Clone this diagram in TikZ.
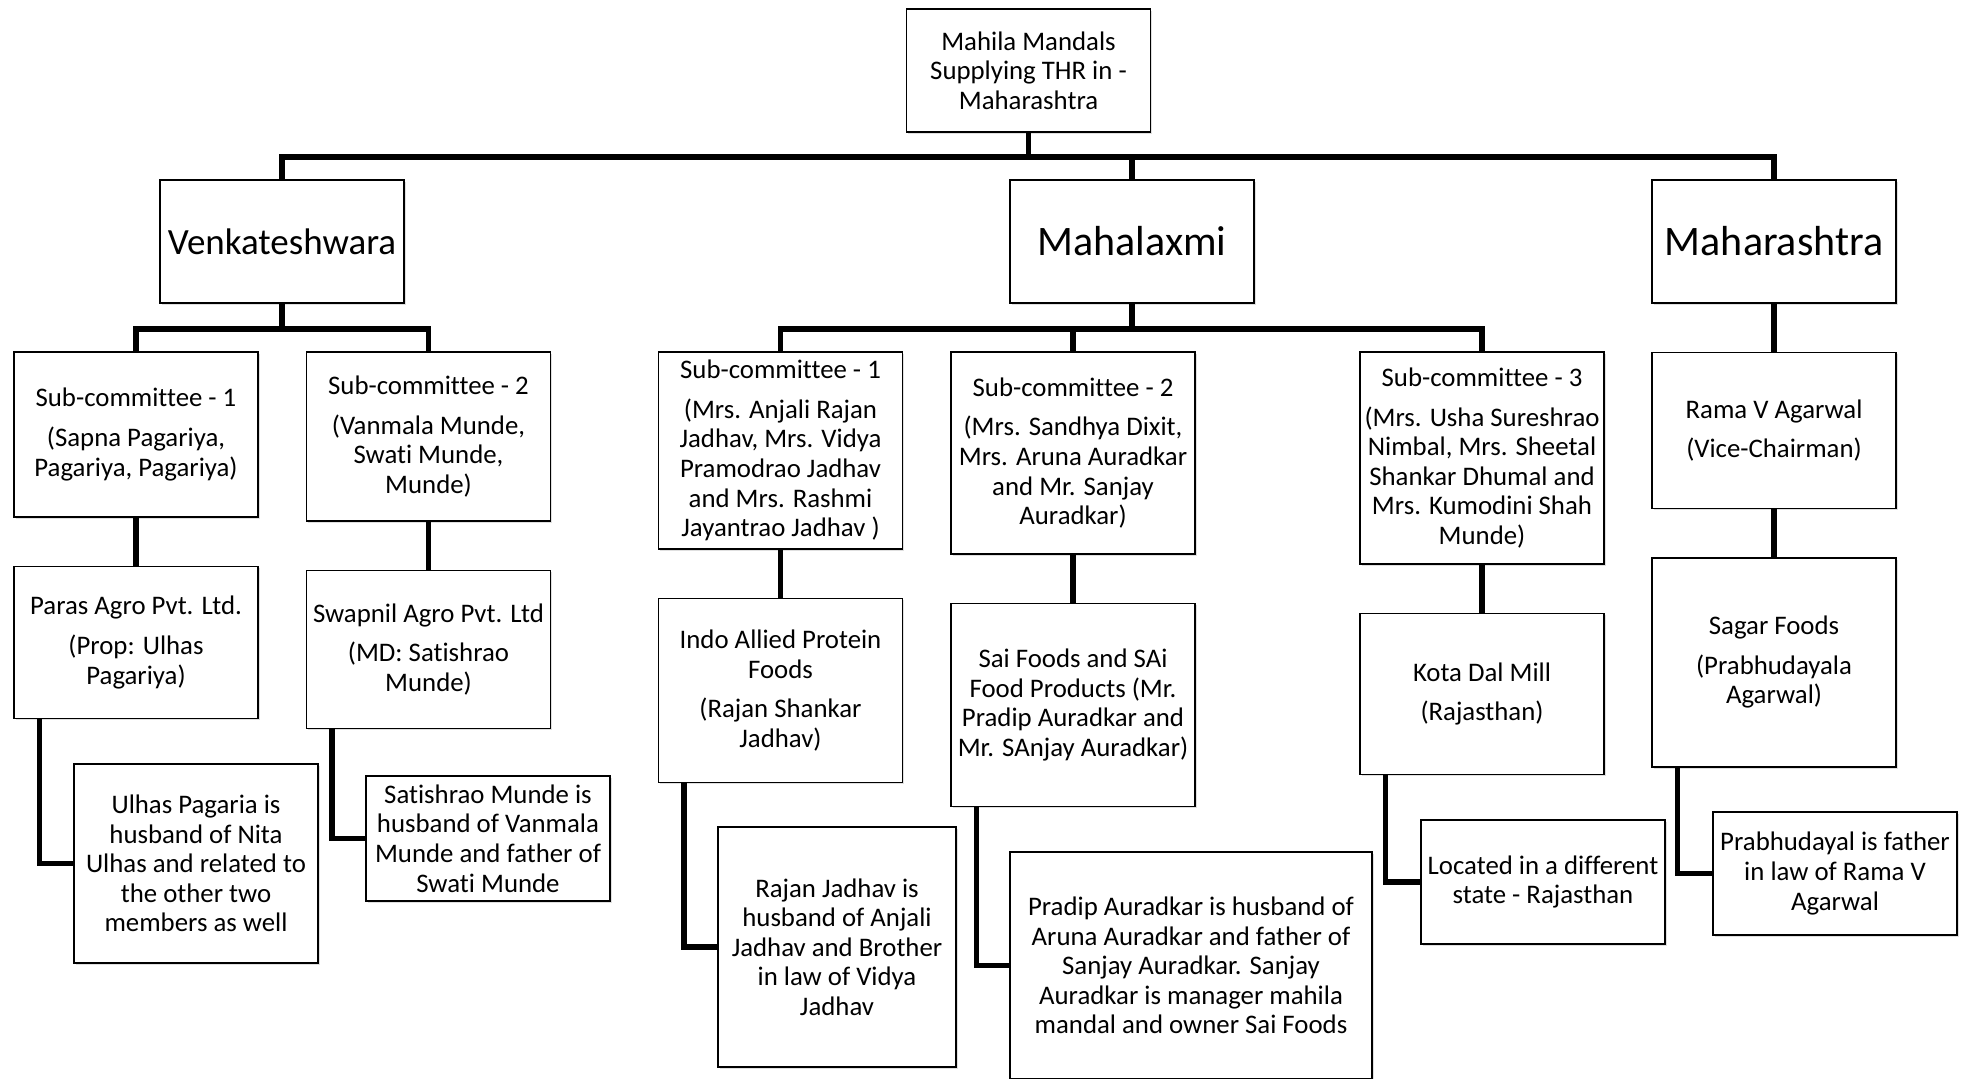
\documentclass[tikz,border=0pt]{standalone}
\usepackage{fontspec}
\setmainfont{Carlito}[RawFeature={-liga}]
\usepackage{tikz}
\usetikzlibrary{positioning,shadows}

\begin{document}
\begin{tikzpicture}[
  x=0.5pt, y=-0.5pt,
  font=\fontsize{13.4}{14.8}\selectfont,
  node distance=24pt,
  box/.style={draw, line width=0.7pt, fill=white, align=center, inner sep=2pt, minimum width=122pt,
    drop shadow={shadow xshift=0.9pt, shadow yshift=-0.9pt, opacity=0.25}},
  big/.style={box, font=\fontsize{21}{24}\selectfont, minimum height=61.5pt},
  link/.style={line width=2.8pt, color=black}
]
\path[use as bounding box, fill=white] (0,0) rectangle (1973,1078);

% top of the tree
\node[box, minimum height=61.5pt] (mandals) at (1028.5,70.5) {Mahila Mandals\\Supplying THR in -\\Maharashtra};
\node[big, font=\fontsize{18.5}{21}\selectfont] (venkat) at (282,241.5) {Venkateshwara};
\node[big] (mahalaxmi) at (1132,241.5) {Mahalaxmi};
\node[big] (maharashtra) at (1774,241.5) {Maharashtra};

% committees
\node[box, minimum height=82.5pt] (vsubone) at (136,434.5) {Sub-committee - 1\\[5pt](Sapna Pagariya,\\Pagariya, Pagariya)};
\node[box, minimum height=84.5pt] (vsubtwo) at (428.5,436.5) {Sub-committee - 2\\[5pt](Vanmala Munde,\\Swati Munde,\\Munde)};
\node[box, minimum height=98.5pt] (msubone) at (780.5,450.5) {Sub-committee - 1\\[5pt](Mrs. Anjali Rajan\\Jadhav, Mrs. Vidya\\Pramodrao Jadhav\\and Mrs. Rashmi\\Jayantrao Jadhav )};
\node[box, minimum height=101pt] (msubtwo) at (1073,453) {Sub-committee - 2\\[5pt](Mrs. Sandhya Dixit,\\Mrs. Aruna Auradkar\\and Mr. Sanjay\\Auradkar)};
\node[box, minimum height=106pt] (msubthree) at (1482,458) {Sub-committee - 3\\[5pt](Mrs. Usha Sureshrao\\Nimbal, Mrs. Sheetal\\Shankar Dhumal and\\Mrs. Kumodini Shah\\Munde)};
\node[box, minimum height=78pt, below=of maharashtra] (rama) {Rama V Agarwal\\[5pt](Vice-Chairman)};

% suppliers
\node[box, minimum height=76pt, below=of vsubone] (paras) {Paras Agro Pvt. Ltd.\\[5pt](Prop: Ulhas\\Pagariya)};
\node[box, minimum height=79pt, below=of vsubtwo] (swapnil) {Swapnil Agro Pvt. Ltd\\[5pt](MD: Satishrao\\Munde)};
\node[box, minimum height=92pt, below=of msubone] (indo) {Indo Allied Protein\\Foods\\[5pt](Rajan Shankar\\Jadhav)};
\node[box, minimum height=101.5pt, below=of msubtwo] (sai) {Sai Foods and SAi\\Food Products (Mr.\\Pradip Auradkar and\\Mr. SAnjay Auradkar)};
\node[box, minimum height=80.5pt, below=of msubthree] (kota) {Kota Dal Mill\\[5pt](Rajasthan)};
\node[box, minimum height=104.5pt, below=of rama] (sagar) {Sagar Foods\\[5pt](Prabhudayala\\Agarwal)};

% relations
\node[box, minimum height=99.5pt] (ulhas) at (196,863.5) {Ulhas Pagaria is\\husband of Nita\\Ulhas and related to\\the other two\\members as well};
\node[box, minimum height=62.5pt] (satish) at (488,838.5) {Satishrao Munde is\\husband of Vanmala\\Munde and father of\\Swati Munde};
\node[box, minimum height=120pt, minimum width=119pt] (rajan) at (837,947) {Rajan Jadhav is\\husband of Anjali\\Jadhav and Brother\\in law of Vidya\\Jadhav};
\node[box, minimum height=113.5pt, minimum width=181pt] (pradip) at (1191,965.5) {Pradip Auradkar is husband of\\Aruna Auradkar and father of\\Sanjay Auradkar. Sanjay\\Auradkar is manager mahila\\mandal and owner Sai Foods};
\node[box, minimum height=62pt] (located) at (1543,882) {Located in a different\\state - Rajasthan};
\node[box, minimum height=61.5pt] (prabhu) at (1835,873.5) {Prabhudayal is father\\in law of Rama V\\Agarwal};

\draw[link] (mandals.south) -- ++(0,24) -| (venkat.north);
\draw[link] (mandals.south) -- ++(0,24) -| (mahalaxmi.north);
\draw[link] (mandals.south) -- ++(0,24) -| (maharashtra.north);
\draw[link] (venkat.south) -- ++(0,25) -| (vsubone.north);
\draw[link] (venkat.south) -- ++(0,25) -| (vsubtwo.north);
\draw[link] (mahalaxmi.south) -- ++(0,25) -| (msubone.north);
\draw[link] (mahalaxmi.south) -- ++(0,25) -| (msubtwo.north);
\draw[link] (mahalaxmi.south) -- ++(0,25) -| (msubthree.north);
\draw[link] (maharashtra) -- (rama);
\draw[link] (vsubone) -- (paras);
\draw[link] (vsubtwo) -- (swapnil);
\draw[link] (msubone) -- (indo);
\draw[link] (msubtwo) -- (sai);
\draw[link] (msubthree) -- (kota);
\draw[link] (rama) -- (sagar);
\draw[link] ([xshift=13pt]paras.south west) |- (ulhas.west);
\draw[link] ([xshift=13pt]swapnil.south west) |- (satish.west);
\draw[link] ([xshift=13pt]indo.south west) |- (rajan.west);
\draw[link] ([xshift=13pt]sai.south west) |- (pradip.west);
\draw[link] ([xshift=13pt]kota.south west) |- (located.west);
\draw[link] ([xshift=13pt]sagar.south west) |- (prabhu.west);
\end{tikzpicture}
\end{document}
